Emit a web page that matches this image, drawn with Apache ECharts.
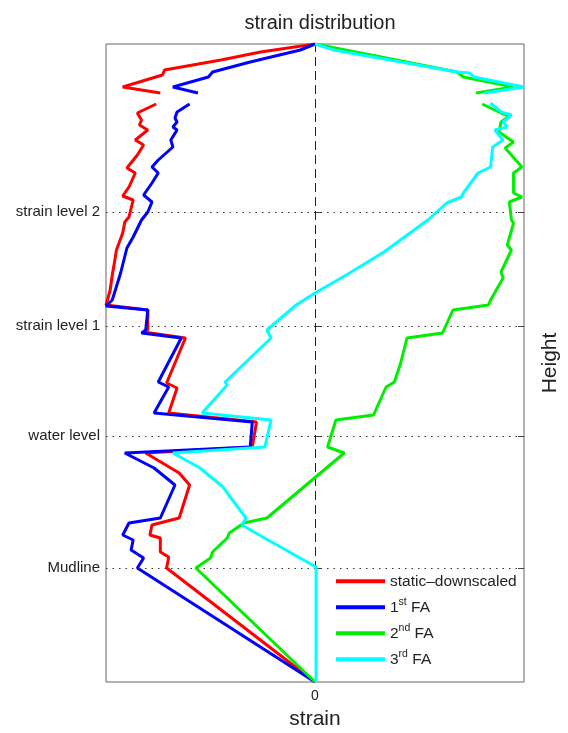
<!DOCTYPE html>
<html>
<head>
<meta charset="utf-8">
<script src="https://cdn.jsdelivr.net/npm/echarts@6/dist/echarts.min.js"></script>
<style>
html,body{margin:0;padding:0;background:#fff;}
#chart{width:568px;height:733px;}
</style>
</head>
<body>
<div id="chart"></div>
<script>
// Height levels (tick positions) and labels
const levelValues = [114, 246, 356, 470];
const levelLabels = ['Mudline', 'water level', 'strain level 1', 'strain level 2'];
const heightMax = 638;

const seriesNames = ['static\u2013downscaled', '1st FA', '2nd FA', '3rd FA'];

// [strain, height] pairs; null breaks the line
const staticDownscaled = [
  [0,638],[-0.26,630],[-0.45,622],[-0.72,612],[-0.73,607],[-0.92,595],[-0.74,589],null,
  [-0.76,578],[-0.85,569],[-0.83,562],[-0.84,557],[-0.80,552],[-0.86,542],[-0.82,537],
  [-0.85,527],[-0.90,514],[-0.86,509],[-0.89,495],[-0.92,486],[-0.87,482],[-0.89,465],
  [-0.91,460],[-0.92,449],[-0.95,432],[-0.96,419],[-0.97,407],[-0.98,392],[-1.0,377],
  [-0.80,372],[-0.80,352],[-0.82,350],[-0.62,344],[-0.71,299],[-0.66,294],[-0.70,269],
  [-0.28,260],[-0.30,235],[-0.81,229],[-0.65,209],[-0.60,197],[-0.65,164],[-0.78,157],
  [-0.79,147],[-0.74,144],[-0.74,130],[-0.70,125],[-0.71,114],[0,0]
];
const firstFA = [
  [0,638],[-0.07,632],[-0.31,620],[-0.49,610],[-0.51,605],[-0.68,595],[-0.56,589],null,
  [-0.60,578],[-0.66,570],[-0.67,564],[-0.66,560],[-0.68,555],[-0.66,552],[-0.69,542],
  [-0.68,535],[-0.75,522],[-0.78,515],[-0.75,509],[-0.78,499],[-0.82,487],[-0.78,480],
  [-0.80,470],[-0.83,462],[-0.87,445],[-0.90,434],[-0.93,409],[-0.97,382],[-1.0,376],
  [-0.80,372],[-0.81,352],[-0.83,349],[-0.64,344],[-0.75,300],[-0.70,295],[-0.77,269],
  [-0.30,260],[-0.31,235],[-0.91,229],[-0.77,214],[-0.67,197],[-0.74,164],[-0.89,159],
  [-0.92,147],[-0.87,142],[-0.88,132],[-0.82,124],[-0.85,114],[0,0]
];
const secondFA = [
  [0,638],[0.68,610],[0.71,605],[0.95,595],[0.77,589],null,
  [0.80,578],[0.89,569],[0.93,566],[0.89,560],[0.88,550],[0.95,540],[0.91,534],
  [0.99,515],[0.95,509],[0.95,489],[0.99,485],[0.93,480],[0.94,462],[0.95,459],
  [0.92,437],[0.94,432],[0.89,410],[0.90,404],[0.84,382],[0.83,377],[0.66,372],
  [0.61,349],[0.44,344],[0.41,319],[0.38,300],[0.34,295],[0.28,267],[0.10,262],
  [0.06,235],[0.14,229],[-0.23,164],[-0.34,159],[-0.41,149],[-0.42,144],[-0.49,130],
  [-0.50,124],[-0.57,114],[0,0]
];
const thirdFA = [
  [0,638],[0.09,632],[0.68,610],[0.74,609],[0.76,605],[1.0,595],[0.81,589],null,
  [0.84,579],[0.89,570],[0.94,567],[0.90,560],[0.92,555],[0.86,552],[0.90,542],
  [0.85,535],[0.84,515],[0.78,509],[0.71,489],[0.70,485],[0.63,479],[0.54,462],
  [0.33,430],[0.15,407],[0,389],[-0.09,377],[-0.23,352],[-0.21,344],[-0.43,300],
  [-0.42,297],[-0.54,269],[-0.21,262],[-0.24,235],[-0.68,229],[-0.55,214],[-0.44,195],
  [-0.42,189],[-0.33,164],[-0.35,157],[-0.25,145],[0.005,115],[0.005,0]
];

const colors = ['#ff0000', '#0000ff', '#00ee00', '#00ffff'];
const allData = [staticDownscaled, firstFA, secondFA, thirdFA];

const supMap = {'1st FA': '1{sup|st} FA', '2nd FA': '2{sup|nd} FA', '3rd FA': '3{sup|rd} FA'};
const FONT = 'Liberation Sans, Arial, Helvetica, sans-serif';

const series = allData.map((d, i) => ({
  name: seriesNames[i],
  type: 'line',
  data: d,
  showSymbol: false,
  symbol: 'none',
  connectNulls: false,
  lineStyle: {color: colors[i], width: 3},
  itemStyle: {color: colors[i]},
  z: 3 + i,
  animation: false
}));

// reference lines
series.push({
  type: 'line',
  data: [],
  silent: true,
  animation: false,
  markLine: {
    silent: true,
    symbol: ['none', 'none'],
    label: {show: false},
    animation: false,
    data: levelValues.map(v => ({yAxis: v, lineStyle: {type: [1.5, 5], color: '#333', width: 1}}))
      .concat([{xAxis: 0, lineStyle: {type: [9, 5], color: '#222', width: 1}}])
  }
});

const chart = echarts.init(document.getElementById('chart'), null, {renderer: 'canvas'});
chart.setOption({
  backgroundColor: '#fff',
  animation: false,
  title: {
    text: 'strain distribution',
    left: 315,
    top: 8,
    textAlign: 'center',
    textStyle: {fontFamily: FONT, fontSize: 20, fontWeight: 'normal', color: '#222'}
  },
  grid: {left: 106, right: 44, top: 44, bottom: 51, show: true, borderColor: '#666', borderWidth: 1,
         backgroundColor: 'transparent', containLabel: false, outerBoundsMode: 'none'},
  legend: {
    orient: 'vertical',
    left: 331,
    top: 566,
    itemWidth: 49,
    itemHeight: 4,
    itemGap: 5.5,
    icon: 'rect',
    data: seriesNames,
    formatter: n => supMap[n] || n,
    textStyle: {
      fontFamily: FONT, fontSize: 15.5, color: '#222', lineHeight: 20.5,
      rich: {sup: {fontFamily: FONT, fontSize: 10.5, color: '#222', lineHeight: 11, verticalAlign: 'top'}}
    }
  },
  xAxis: {
    type: 'value',
    min: -1,
    max: 1,
    interval: 1,
    name: 'strain',
    nameLocation: 'middle',
    nameGap: 27,
    nameTextStyle: {fontFamily: FONT, fontSize: 21, color: '#222'},
    axisLine: {show: false},
    axisTick: {show: false},
    splitLine: {show: false},
    axisLabel: {
      formatter: v => (v === 0 ? '0' : ''),
      fontFamily: FONT, fontSize: 14, color: '#222', margin: 7
    }
  },
  yAxis: [{
    type: 'value',
    min: 0,
    max: heightMax,
    axisLine: {show: false},
    splitLine: {show: false},
    axisTick: {show: true, inside: true, length: 6, customValues: levelValues, lineStyle: {color: '#444'}},
    axisLabel: {
      customValues: levelValues,
      formatter: v => { const k = levelValues.indexOf(v); return k >= 0 ? levelLabels[k] : ''; },
      fontFamily: FONT, fontSize: 15, color: '#222', margin: 6
    }
  }, {
    type: 'value',
    position: 'right',
    min: 0,
    max: heightMax,
    name: 'Height',
    nameLocation: 'middle',
    nameGap: 16,
    nameRotate: 90,
    nameTextStyle: {fontFamily: FONT, fontSize: 21, color: '#222'},
    axisLine: {show: false},
    splitLine: {show: false},
    axisTick: {show: true, inside: true, length: 6, customValues: levelValues, lineStyle: {color: '#444'}},
    axisLabel: {show: false}
  }],
  series: series
});
</script>
</body>
</html>
